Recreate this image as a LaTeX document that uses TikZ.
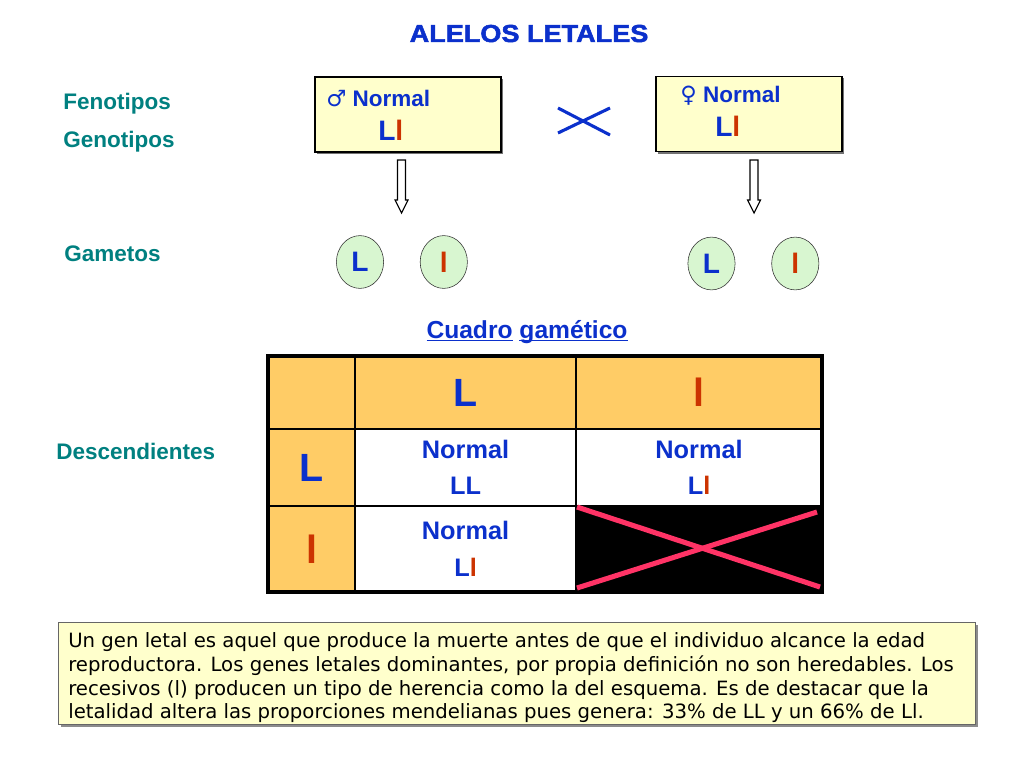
\documentclass[tikz,border=0pt]{standalone}
\usepackage{fontspec}
\setmainfont{Liberation Sans}
\newfontfamily\symfont{DejaVu Sans}
\newfontfamily\notefont{DejaVu Sans}
\usepackage{xcolor}
\usetikzlibrary{shapes.geometric, positioning}
\definecolor{alblue}{HTML}{0B30CC}
\definecolor{alred}{HTML}{CC3300}
\definecolor{alteal}{HTML}{008080}
\definecolor{boxyellow}{HTML}{FFFFCC}
\definecolor{gamgreen}{HTML}{D8F6D0}
\definecolor{headorange}{HTML}{FFCC66}
\definecolor{crosspink}{HTML}{FF3366}
\newcommand{\genLl}{L\textcolor{alred}{l}}
\newcommand{\ulword}[1]{\underline{\raisebox{0pt}[\height][0pt]{#1}}}
\tikzstyle{parent} = [draw=black, line width=1pt, fill=boxyellow, minimum width=4.65cm, minimum height=1.875cm, inner sep=0pt]
\tikzstyle{rowtext} = [anchor=base west, inner sep=0pt, text=alteal, font=\fontsize{16}{19}\selectfont\bfseries]
\tikzstyle{boxtext} = [anchor=base west, inner sep=0pt, text=alblue, font=\fontsize{16}{19}\selectfont\bfseries]
\tikzstyle{geno} = [anchor=base west, inner sep=0pt, text=alblue, font=\fontsize{20}{24}\selectfont\bfseries]
\tikzstyle{gamete} = [ellipse, draw=black!80, fill=gamgreen, minimum width=1.18cm, minimum height=1.32cm, inner sep=0pt, text=alblue, font=\fontsize{20}{22}\selectfont\bfseries]
\tikzstyle{hollow} = [draw=black, fill=white, line width=0.8pt]
\tikzstyle{crossmark} = [draw=alblue, line width=2.2pt]
\tikzstyle{head} = [draw=black, line width=1.4pt, fill=headorange, anchor=north west, inner sep=0pt, outer sep=0pt, text=alblue, font=\fontsize{28}{30}\selectfont\bfseries]
\tikzstyle{cell} = [draw=black, line width=1.4pt, fill=white, anchor=north west, inner sep=0pt, outer sep=0pt, align=center, text=alblue, font=\fontsize{18}{26}\selectfont\bfseries]
\tikzstyle{shade} = [fill=black!55, draw=none]

\begin{document}
\begin{tikzpicture}[x=0.025cm, y=-0.025cm]
\useasboundingbox [fill=white] (0,0) rectangle (1024,768);
% title
\node (title) [anchor=base, inner sep=0pt, text=alblue, font=\fontsize{17.5}{20}\selectfont\bfseries\addfontfeature{FakeBold=2}] at (529,42) {\scalebox{1.1}[1]{ALELOS LETALES}};
% left column
\node (fen) [rowtext] at (63,110) {Fenotipos};
\node (gen) [rowtext] at (63,148) {Genotipos};
\node (gam) [rowtext] at (64,261) {Gametos};
\node (desc) [rowtext] at (56,459) {Descendientes};
% parents
\fill [shade] (317,79) rectangle (503,154);
\node (m_box) [parent] at (408,114.5) {};
\fill [shade] (658,78) rectangle (844,154);
\node (f_box) [parent] at (749,114) {};
\node (m_phen) [boxtext] at (326,107) {{\symfont ♂} Normal};
\node (m_gen) [geno] at (378,141) {\genLl};
\node (f_phen) [boxtext] at (680,103) {{\symfont ♀} Normal};
\node (f_gen) [geno] at (715,137) {\genLl};
% cross
\draw [crossmark] (558,108) -- (610,135);
\draw [crossmark] (558,133) -- (610,108);
% hollow arrows
\draw [hollow] (397.5,160) -- (397.5,200) -- (395,200) -- (401.5,213) -- (408,200) -- (405.5,200) -- (405.5,160) -- cycle;
\draw [hollow] (750,160) -- (750,200) -- (747.5,200) -- (754,213) -- (760.5,200) -- (758,200) -- (758,160) -- cycle;
% gametes
\node (m_L) [gamete] at (360,262) {L};
\node (m_l) [gamete, right=0.9cm of m_L] {\textcolor{alred}{l}};
\node (f_L) [gamete] at (711.5,263.5) {L};
\node (f_l) [gamete, right=0.9cm of f_L] {\textcolor{alred}{l}};
% gametic square
\node (sq_title) [anchor=base, inner sep=0pt, text=alblue, font=\fontsize{17.5}{20}\selectfont\bfseries] at (527,338) {\ulword{Cuadro} \ulword{gamético}};
\node (c_00) [head, minimum width=2.175cm, minimum height=1.825cm] at (268,356) {};
\node (c_01) [head, minimum width=5.525cm, minimum height=1.825cm] at (355,356) {L};
\node (c_02) [head, minimum width=6.15cm, minimum height=1.825cm] at (576,356) {\textcolor{alred}{l}};
\node (c_10) [head, minimum width=2.175cm, minimum height=1.925cm] at (268,429) {L};
\node (c_11) [cell, minimum width=5.525cm, minimum height=1.925cm] at (355,429) {Normal\\LL};
\node (c_12) [cell, minimum width=6.15cm, minimum height=1.925cm] at (576,429) {Normal\\\genLl};
\node (c_20) [head, minimum width=2.175cm, minimum height=2.15cm] at (268,506) {\textcolor{alred}{l}};
\node (c_21) [cell, minimum width=5.525cm, minimum height=2.15cm] at (355,506) {Normal\\\genLl};
\node (c_22) [cell, fill=black, minimum width=6.15cm, minimum height=2.15cm] at (576,506) {};
\draw [line width=2.2pt] (268,356) rectangle (822,592);
\draw [crosspink, line width=3.6pt] (577,507) -- (820,587);
\draw [crosspink, line width=3.6pt] (577,588) -- (817,512);
% note
\fill [black!45] (61,625) rectangle (978,727);
\node (note) [draw=black!60, fill=boxyellow, minimum width=22.925cm, minimum height=2.55cm, inner sep=0pt] at (516.5,673) {};
\node (note_text) [anchor=north west, inner sep=0pt, align=left, font=\notefont\fontsize{14}{17}\selectfont] at (68,632) {Un gen letal es aquel que produce la muerte antes de que el individuo alcance la edad\\reproductora. Los genes letales dominantes, por propia definición no son heredables. Los\\recesivos (l) producen un tipo de herencia como la del esquema. Es de destacar que la\\letalidad altera las proporciones mendelianas pues genera: 33\% de LL y un 66\% de Ll.};
\end{tikzpicture}
\end{document}
